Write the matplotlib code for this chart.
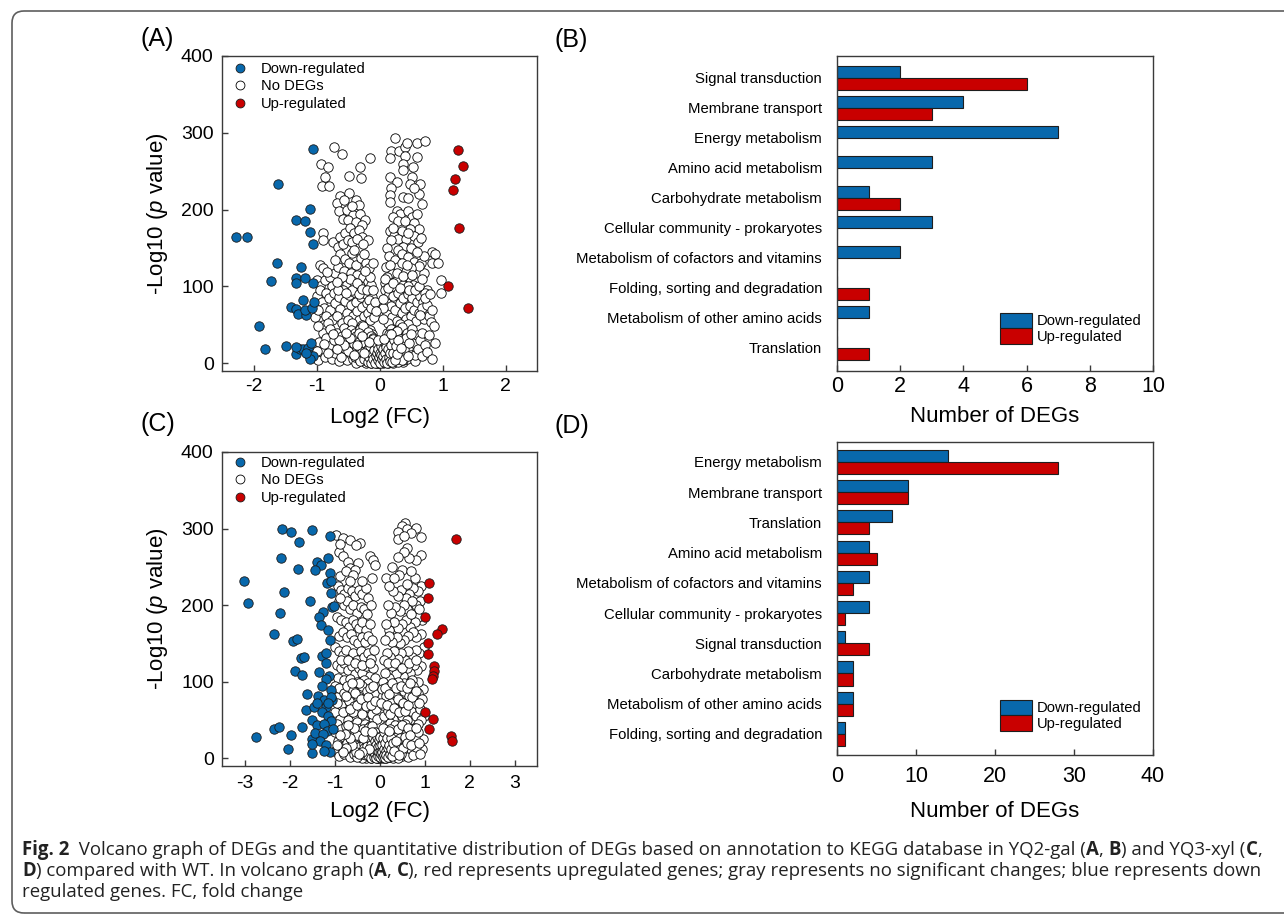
import matplotlib
matplotlib.use('Agg')
import numpy as np
import matplotlib.pyplot as plt
from matplotlib.lines import Line2D
from matplotlib.patches import Patch, FancyBboxPatch
from matplotlib.transforms import IdentityTransform
from matplotlib import font_manager as fm

# ------------------------------------------------------------------ DATA
# Volcano A (YQ2-gal): (log2 FC, -log10 p)
a_down = [(-1.05, 279), (-1.61, 233), (-1.10, 201), (-1.32, 187), (-1.19, 185), (-1.10, 171),
          (-1.05, 155), (-2.28, 164), (-2.11, 164), (-1.62, 130), (-1.72, 107), (-1.25, 125),
          (-1.32, 111), (-1.19, 111), (-1.33, 104), (-1.06, 105), (-1.41, 73), (-1.33, 71),
          (-1.22, 82), (-1.30, 64), (-1.16, 63), (-1.19, 70), (-1.07, 72), (-1.04, 80),
          (-1.91, 49), (-1.82, 18), (-1.48, 23), (-1.33, 12), (-1.26, 18), (-1.21, 18),
          (-1.13, 20), (-1.08, 27), (-1.13, 12), (-1.05, 10), (-1.11, 6), (-1.32, 21), (-1.17, 13)]
a_up = [(1.24, 278), (1.33, 257), (1.20, 240), (1.16, 225), (1.26, 176), (1.09, 101), (1.41, 72)]
a_none = [
    (-0.72, 281), (-0.60, 273), (-0.93, 260), (-0.81, 256), (-0.87, 242), (-0.91, 231), (-0.80, 231),
    (-0.48, 244), (-0.31, 255), (-0.30, 241), (-0.15, 267), (-0.63, 218), (-0.48, 222), (-0.37, 213),
    (-0.32, 206), (-0.68, 209), (-0.65, 198), (-0.52, 200), (-0.42, 193), (-0.31, 195), (-0.23, 187),
    (-0.56, 212), (-0.44, 205), (-0.58, 188), (-0.50, 186), (-0.38, 184), (-0.27, 180), (-0.89, 169),
    (-0.90, 160), (-0.74, 158), (-0.62, 165), (-0.55, 170), (-0.47, 176), (-0.40, 170), (-0.33, 174),
    (-0.28, 165), (-0.18, 160), (-0.66, 152), (-0.58, 155), (-0.50, 160), (-0.43, 158), (-0.36, 162),
    (-0.26, 155),
    (0.25, 293), (0.19, 277), (0.17, 267), (0.31, 277), (0.41, 281), (0.44, 287), (0.60, 287),
    (0.72, 290), (0.60, 269), (0.41, 270), (0.37, 260), (0.53, 256), (0.38, 252), (0.17, 243),
    (0.27, 236), (0.51, 243), (0.49, 234), (0.64, 234), (0.67, 208), (0.62, 221), (0.18, 228),
    (0.16, 219), (0.16, 210), (0.38, 217), (0.55, 228), (0.45, 215), (0.27, 198), (0.33, 194),
    (0.45, 198), (0.52, 190), (0.60, 194), (0.22, 190), (0.30, 185), (0.40, 185), (0.55, 182),
    (0.63, 175), (0.49, 175), (0.36, 172), (0.16, 172), (0.23, 166), (0.29, 162), (0.42, 162),
    (0.55, 166), (0.61, 158), (0.19, 160), (0.38, 152), (0.50, 150), (0.30, 148), (0.12, 150),
    (0.22, 176), (0.45, 170), (0.66, 163),
    (-0.95, 128), (-0.90, 124), (-1.00, 108), (-0.94, 100), (-0.86, 108), (-0.79, 112), (-0.70, 117),
    (-0.62, 142), (-0.55, 136), (-0.49, 131), (-0.44, 144), (-0.37, 128), (-0.30, 137), (-0.22, 131),
    (-0.16, 124), (-0.66, 126), (-0.56, 120), (-0.46, 118), (-0.36, 115), (-0.26, 112), (-0.19, 106),
    (-0.75, 100), (-0.61, 105), (-0.51, 103), (-0.41, 106), (-0.31, 101), (-0.13, 102), (-0.10, 130),
    (-0.84, 119), (-0.40, 147), (-0.70, 135), (-0.25, 142), (-0.15, 113),
    (0.15, 140), (0.25, 135), (0.35, 142), (0.45, 138), (0.55, 132), (0.66, 131), (0.83, 145),
    (0.88, 142), (0.83, 131), (0.93, 131), (0.71, 117), (0.62, 127), (0.50, 124), (0.40, 120),
    (0.30, 126), (0.20, 118), (0.12, 112), (0.18, 105), (0.28, 108), (0.38, 102), (0.48, 111),
    (0.58, 106), (0.53, 102), (0.75, 95), (0.98, 109), (0.98, 92), (0.10, 126), (0.45, 100),
    (0.25, 95), (0.35, 130), (0.70, 140), (0.60, 145), (0.08, 104),
    (-1.00, 88), (-0.95, 95), (-0.92, 80), (-0.85, 91), (-0.88, 72), (-0.80, 85), (-0.78, 70),
    (-0.72, 92), (-0.70, 78), (-0.65, 86), (-0.62, 71), (-0.58, 96), (-0.55, 81), (-0.52, 66),
    (-0.48, 89), (-0.45, 76), (-0.42, 61), (-0.40, 93), (-0.38, 80), (-0.35, 68), (-0.32, 56),
    (-0.30, 86), (-0.28, 73), (-0.25, 62), (-0.22, 90), (-0.20, 78), (-0.18, 66), (-0.15, 56),
    (-0.12, 86), (-0.10, 71), (-0.08, 60), (-0.95, 55), (-0.85, 61), (-0.75, 56), (-0.68, 62),
    (-0.60, 52), (-0.50, 56), (-1.02, 60), (-0.90, 50), (-0.98, 70), (-0.82, 52), (-0.66, 95),
    (-0.44, 52), (-0.27, 50),
    (0.08, 95), (0.10, 80), (0.12, 65), (0.15, 90), (0.18, 75), (0.20, 60), (0.22, 88), (0.25, 70),
    (0.28, 55), (0.30, 92), (0.32, 78), (0.35, 65), (0.38, 85), (0.40, 72), (0.42, 58), (0.45, 90),
    (0.48, 75), (0.50, 62), (0.52, 85), (0.55, 70), (0.58, 55), (0.60, 80), (0.62, 65), (0.65, 88),
    (0.69, 80), (0.68, 72), (0.70, 58), (0.73, 92), (0.76, 76), (0.78, 62), (0.64, 63), (0.82, 54),
    (0.86, 48), (0.14, 52), (0.06, 72), (0.05, 58), (0.33, 51), (0.46, 51),
    (-0.96, 28), (-0.97, 4), (-0.90, 40), (-0.92, 15), (-0.85, 33), (-0.86, 8), (-0.80, 22),
    (-0.78, 45), (-0.76, 5), (-0.72, 30), (-0.70, 14), (-0.68, 40), (-0.65, 3), (-0.63, 22),
    (-0.60, 35), (-0.58, 10), (-0.56, 46), (-0.55, 27), (-0.53, 17), (-0.51, 4), (-0.49, 38),
    (-0.48, 24), (-0.46, 12), (-0.45, 44), (-0.43, 31), (-0.42, 6), (-0.40, 19), (-0.39, 40),
    (-0.37, 27), (-0.36, 11), (-0.35, 2), (-0.34, 34), (-0.33, 18), (-0.31, 45), (-0.30, 25),
    (-0.29, 8), (-0.28, 14), (-0.27, 33), (-0.26, 3), (-0.25, 20), (-0.24, 40), (-0.23, 11),
    (-0.22, 27), (-0.21, 6), (-0.20, 16), (-0.19, 34), (-0.18, 2), (-0.17, 22), (-0.16, 10),
    (-0.15, 44), (-0.15, 28), (-0.14, 5), (-0.13, 16), (-0.12, 38), (-0.11, 24), (-0.10, 9),
    (-0.09, 2), (-0.09, 14), (-0.08, 30), (-0.07, 6), (-0.06, 20), (-0.05, 11), (-0.04, 3),
    (-0.03, 15), (-0.02, 7), (-0.01, 1),
    (0.01, 4), (0.02, 10), (0.03, 2), (0.04, 17), (0.05, 7), (0.06, 25), (0.07, 12), (0.08, 3),
    (0.09, 32), (0.10, 18), (0.11, 8), (0.12, 40), (0.12, 24), (0.13, 4), (0.14, 13), (0.15, 30),
    (0.16, 20), (0.17, 2), (0.18, 45), (0.18, 9), (0.19, 35), (0.20, 15), (0.21, 26), (0.22, 5),
    (0.23, 40), (0.24, 19), (0.25, 11), (0.26, 31), (0.27, 3), (0.28, 24), (0.29, 44), (0.30, 14),
    (0.31, 36), (0.32, 7), (0.33, 28), (0.35, 18), (0.36, 47), (0.37, 2), (0.38, 33), (0.40, 12),
    (0.41, 25), (0.43, 40), (0.44, 6), (0.46, 20), (0.48, 33), (0.50, 11), (0.52, 45), (0.54, 26),
    (0.56, 3), (0.57, 11), (0.59, 37), (0.61, 18), (0.64, 30), (0.67, 39), (0.68, 9), (0.72, 24),
    (0.76, 15), (0.79, 37), (0.88, 27), (0.84, 5),
    (-0.30, 4), (-0.22, 1), (-0.14, 1), (-0.06, 1), (0.00, 2), (0.06, 1), (0.14, 1), (0.22, 1),
    (0.30, 2), (-0.38, 1), (0.38, 4), (-0.12, 3), (0.10, 2), (-0.20, 8), (0.20, 7), (-0.10, 18),
    (0.08, 20), (0.00, 5), (-0.02, 0.5), (-0.98, 48), (-1.00, 16),
    (-0.44, 15), (-0.41, 25), (-0.39, 8), (-0.37, 35), (-0.35, 20), (-0.33, 5), (-0.32, 28),
    (-0.30, 40), (-0.29, 17), (-0.27, 10), (-0.26, 48), (-0.24, 30), (-0.23, 4), (-0.22, 19),
    (-0.21, 36), (-0.20, 25), (-0.19, 12), (-0.18, 41), (-0.17, 6), (-0.16, 30), (-0.15, 17),
    (-0.14, 36), (-0.13, 9), (-0.12, 26), (-0.11, 4), (-0.10, 33), (-0.09, 20), (-0.08, 10),
    (-0.07, 27), (-0.06, 3), (-0.05, 17), (-0.04, 8), (-0.03, 24), (-0.02, 12), (0.00, 9),
    (0.01, 16), (0.03, 6), (0.04, 27), (0.05, 13), (0.06, 4), (0.07, 19), (0.09, 9), (0.10, 28),
    (0.11, 14), (0.13, 22), (0.14, 6), (0.15, 38), (0.16, 12), (0.17, 27), (0.19, 4), (0.20, 33),
    (0.21, 19), (0.23, 8), (0.24, 29), (0.26, 17), (0.27, 42), (0.28, 6), (0.30, 22), (0.32, 32),
    (0.33, 12), (0.35, 4), (0.36, 26), (0.39, 18), (0.42, 33), (0.45, 10), (0.47, 27), (0.50, 38),
    (-0.47, 33), (-0.50, 16), (-0.53, 40), (-0.57, 24), (-0.61, 8), (-0.64, 30), (-0.67, 18),
    (-0.74, 38), (-0.82, 13), (-0.88, 25),
    (-0.47, 110), (-0.43, 96), (-0.36, 104), (-0.33, 90), (-0.27, 97), (-0.23, 120), (-0.20, 95),
    (-0.17, 82), (-0.14, 72), (-0.11, 95), (-0.07, 80), (-0.05, 68), (-0.53, 92), (-0.60, 112),
    (-0.68, 106), (0.05, 84), (0.09, 110), (0.14, 98), (0.17, 128), (0.22, 104), (0.27, 118),
    (0.33, 98), (0.37, 114), (0.43, 128), (0.47, 96), (0.52, 115), (0.57, 95), (0.63, 100),
    (0.67, 110), (0.72, 85), (0.80, 90), (0.84, 70),
    (-0.34, 12), (-0.31, 3), (-0.29, 22), (-0.27, 15), (-0.25, 6), (-0.23, 26), (-0.21, 13),
    (-0.19, 2), (-0.18, 19), (-0.16, 8), (-0.15, 23), (-0.13, 1), (-0.12, 12), (-0.11, 31),
    (-0.10, 5), (-0.09, 25), (-0.08, 17), (-0.07, 1), (-0.06, 9), (-0.05, 26), (-0.04, 14),
    (-0.03, 4), (-0.02, 19), (-0.01, 8), (0.00, 14), (0.01, 1), (0.02, 22), (0.03, 11), (0.04, 5),
    (0.05, 19), (0.06, 9), (0.07, 2), (0.08, 26), (0.09, 14), (0.10, 6), (0.11, 21), (0.12, 1),
    (0.13, 31), (0.14, 18), (0.15, 8), (0.16, 3), (0.17, 14), (0.19, 24), (0.20, 2), (0.22, 13),
    (0.23, 30), (0.25, 4), (0.26, 22), (0.28, 12), (0.30, 30), (-0.36, 24), (-0.33, 40),
    (-0.24, 14), (-0.17, 28), (-0.02, 30), (0.07, 32), (0.18, 38), (-0.28, 36), (-0.40, 11),
    (0.34, 20)]

# Volcano C (YQ3-xyl)
c_down = [(-2.17, 300), (-1.96, 295), (-1.80, 282), (-1.51, 298), (-1.09, 290), (-2.20, 261),
          (-1.82, 247), (-3.01, 231), (-2.93, 203), (-2.12, 217), (-2.21, 190), (-1.54, 205),
          (-2.34, 163), (-1.92, 153), (-1.84, 156), (-1.74, 131), (-1.67, 132), (-1.87, 114),
          (-1.73, 109), (-1.39, 257), (-1.30, 252), (-1.44, 246), (-1.15, 261), (-1.10, 242),
          (-1.16, 229), (-1.07, 231), (-1.07, 216), (-1.06, 198), (-1.02, 199), (-1.25, 191),
          (-1.35, 184), (-1.29, 174), (-1.14, 167), (-1.10, 154), (-1.27, 134), (-1.18, 137),
          (-1.19, 125), (-1.34, 113), (-1.12, 108), (-1.20, 104), (-1.27, 94), (-1.07, 89),
          (-1.05, 76), (-1.61, 84), (-1.36, 82), (-1.24, 76), (-1.18, 67), (-1.64, 63),
          (-1.45, 67), (-1.27, 60), (-1.14, 55), (-1.07, 49), (-1.73, 41), (-1.51, 50),
          (-1.38, 44), (-1.23, 45), (-1.16, 36), (-2.35, 38), (-2.24, 41), (-1.96, 31),
          (-2.75, 28), (-2.04, 12), (-1.51, 7), (-1.51, 25), (-1.44, 33), (-1.25, 32),
          (-1.32, 23), (-1.18, 17), (-1.10, 8), (-1.49, 19), (-1.24, 10), (-1.04, 38),
          (-1.08, 80), (-1.14, 72), (-1.40, 72)]
c_up = [(1.70, 287), (1.11, 229), (1.07, 210), (1.01, 185), (1.39, 169), (1.27, 163), (1.08, 150),
        (1.07, 136), (1.21, 120), (1.21, 114), (1.19, 108), (1.16, 103), (1.00, 60), (1.19, 52),
        (1.10, 38), (1.59, 29), (1.61, 22)]
c_none = [
    (0.57, 307), (0.51, 303), (0.60, 300), (0.80, 301), (0.71, 294), (0.40, 296), (0.41, 286),
    (0.54, 290), (0.92, 289), (0.61, 275), (0.92, 265), (0.82, 259), (0.66, 262), (0.54, 269),
    (0.41, 263), (0.51, 246), (0.44, 239), (0.79, 235), (0.14, 236), (0.33, 236),
    (-0.96, 291), (-0.81, 288), (-0.66, 285), (-0.44, 281), (-0.90, 269), (-0.81, 264), (-0.70, 257),
    (-0.21, 264), (-0.14, 259), (-0.10, 253), (-0.47, 255), (-0.66, 248), (-0.55, 246), (-0.88, 238),
    (-0.16, 236), (-0.88, 280), (-0.52, 278), (-0.74, 244), (-0.60, 240),
    (-0.93, 225), (-0.85, 220), (-0.78, 215), (-0.70, 222), (-0.62, 218), (-0.55, 212), (-0.45, 220),
    (-0.38, 214), (-0.30, 222), (-0.25, 210), (-0.90, 205), (-0.80, 200), (-0.72, 205), (-0.65, 195),
    (-0.58, 200), (-0.50, 190), (-0.42, 198), (-0.35, 195), (-0.28, 188), (-0.20, 200), (-0.95, 185),
    (-0.85, 180), (-0.75, 178), (-0.68, 172), (-0.60, 180), (-0.52, 175), (-0.45, 170), (-0.38, 178),
    (-0.30, 168), (-0.22, 175), (-0.90, 160), (-0.82, 165), (-0.72, 158), (-0.64, 162), (-0.56, 155),
    (-0.48, 150), (-0.40, 158), (-0.32, 152), (-0.25, 160), (-0.17, 155),
    (0.92, 225), (0.85, 218), (0.75, 222), (0.65, 215), (0.58, 210), (0.48, 220), (0.40, 212),
    (0.30, 218), (0.22, 225), (0.90, 205), (0.80, 200), (0.72, 205), (0.62, 195), (0.55, 200),
    (0.45, 192), (0.35, 198), (0.25, 190), (0.18, 200), (0.95, 180), (0.85, 185), (0.78, 178),
    (0.68, 172), (0.58, 180), (0.50, 175), (0.42, 170), (0.32, 178), (0.22, 168), (0.15, 175),
    (0.92, 162), (0.82, 158), (0.74, 165), (0.64, 160), (0.54, 155), (0.46, 150), (0.38, 158),
    (0.28, 152), (0.20, 160), (0.12, 155), (0.88, 195), (0.70, 188),
    (-0.98, 145), (-0.90, 140), (-0.82, 135), (-0.74, 142), (-0.66, 130), (-0.58, 138), (-0.50, 128),
    (-0.42, 140), (-0.34, 132), (-0.26, 138), (-0.18, 130), (-0.12, 142), (-0.95, 122), (-0.86, 118),
    (-0.78, 125), (-0.70, 115), (-0.62, 120), (-0.54, 110), (-0.46, 118), (-0.38, 112), (-0.30, 120),
    (-0.22, 108), (-0.15, 118), (-0.10, 105), (-0.92, 105), (-0.80, 102), (-0.66, 104), (-0.50, 100),
    (-0.35, 102), (-0.25, 98),
    (0.98, 145), (0.88, 138), (0.80, 142), (0.72, 132), (0.64, 140), (0.56, 128), (0.48, 138),
    (0.40, 130), (0.32, 140), (0.24, 132), (0.16, 138), (0.10, 128), (0.92, 120), (0.84, 115),
    (0.76, 122), (0.68, 112), (0.60, 118), (0.52, 108), (0.44, 115), (0.36, 110), (0.28, 120),
    (0.20, 105), (0.12, 112), (0.08, 100), (0.96, 90), (0.86, 100), (0.72, 102), (0.55, 98),
    (0.40, 100), (0.25, 96),
    (-1.00, 95), (-0.95, 80), (-0.90, 92), (-0.85, 70), (-0.80, 85), (-0.76, 60), (-0.72, 95),
    (-0.68, 75), (-0.64, 55), (-0.60, 88), (-0.56, 68), (-0.52, 50), (-0.48, 82), (-0.44, 62),
    (-0.40, 95), (-0.36, 72), (-0.32, 55), (-0.28, 88), (-0.24, 66), (-0.20, 78), (-0.16, 58),
    (-0.12, 85), (-0.08, 65), (-0.06, 52), (-0.98, 60), (-0.88, 52), (-0.70, 50), (-0.58, 60),
    (-0.46, 98), (-0.34, 50),
    (0.06, 90), (0.08, 70), (0.10, 55), (0.14, 82), (0.18, 62), (0.22, 95), (0.26, 72), (0.30, 52),
    (0.34, 85), (0.38, 65), (0.42, 92), (0.46, 75), (0.50, 55), (0.54, 88), (0.58, 68), (0.62, 50),
    (0.66, 82), (0.70, 62), (0.74, 94), (0.78, 72), (0.82, 55), (0.86, 85), (0.90, 65), (0.95, 78),
    (0.98, 55), (0.92, 50), (0.85, 45), (0.76, 40), (0.96, 25), (0.94, 12),
    (-1.00, 35), (-0.98, 10), (-0.95, 45), (-0.92, 22), (-0.90, 3), (-0.86, 38), (-0.84, 15),
    (-0.80, 28), (-0.78, 6), (-0.75, 42), (-0.72, 20), (-0.70, 10), (-0.68, 33), (-0.65, 2),
    (-0.63, 25), (-0.60, 44), (-0.58, 14), (-0.56, 6), (-0.54, 35), (-0.52, 22), (-0.50, 48),
    (-0.48, 10), (-0.46, 28), (-0.44, 3), (-0.42, 40), (-0.40, 17), (-0.38, 32), (-0.36, 8),
    (-0.34, 24), (-0.32, 45), (-0.30, 13), (-0.29, 2), (-0.27, 35), (-0.26, 20), (-0.24, 7),
    (-0.22, 28), (-0.21, 42), (-0.19, 14), (-0.18, 3), (-0.16, 24), (-0.15, 36), (-0.13, 9),
    (-0.12, 18), (-0.10, 30), (-0.09, 4), (-0.08, 13), (-0.06, 22), (-0.05, 7), (-0.04, 1),
    (-0.02, 12), (-0.01, 4),
    (0.00, 2), (0.01, 8), (0.03, 15), (0.04, 3), (0.05, 24), (0.07, 10), (0.08, 36), (0.09, 2),
    (0.10, 18), (0.12, 28), (0.13, 6), (0.14, 42), (0.16, 14), (0.17, 3), (0.18, 33), (0.20, 22),
    (0.21, 8), (0.23, 46), (0.24, 15), (0.26, 28), (0.27, 4), (0.29, 38), (0.30, 12), (0.32, 24),
    (0.34, 2), (0.35, 44), (0.37, 18), (0.39, 32), (0.41, 8), (0.43, 24), (0.45, 40), (0.47, 14),
    (0.49, 3), (0.51, 30), (0.54, 20), (0.56, 45), (0.58, 10), (0.61, 34), (0.63, 2), (0.66, 22),
    (0.69, 12), (0.72, 38), (0.75, 5), (0.78, 26), (0.82, 15), (0.86, 34), (0.90, 6),
    (-0.30, 1), (-0.20, 1), (-0.12, 2), (-0.06, 0.5), (0.02, 1), (0.08, 1), (0.14, 1), (0.22, 2),
    (0.30, 1), (0.40, 1), (-0.40, 1), (-0.50, 2), (-0.16, 6), (0.11, 5), (-0.03, 8), (0.06, 12),
    (-0.45, 15), (-0.42, 28), (-0.39, 6), (-0.37, 38), (-0.35, 19), (-0.33, 10), (-0.31, 30),
    (-0.28, 22), (-0.27, 8), (-0.25, 40), (-0.23, 15), (-0.22, 32), (-0.20, 6), (-0.19, 24),
    (-0.17, 12), (-0.16, 42), (-0.14, 20), (-0.13, 30), (-0.11, 8), (-0.10, 14), (-0.08, 26),
    (-0.07, 3), (-0.05, 16), (-0.03, 20), (-0.01, 10), (0.02, 20), (0.04, 9), (0.06, 30),
    (0.08, 16), (0.09, 6), (0.11, 24), (0.13, 12), (0.15, 34), (0.17, 20), (0.19, 8), (0.21, 28),
    (0.22, 14), (0.24, 38), (0.25, 6), (0.27, 20), (0.29, 30), (0.31, 8), (0.33, 16), (0.36, 28),
    (0.38, 9), (0.40, 38), (0.42, 16), (0.45, 26), (0.48, 6), (0.50, 44), (0.53, 14), (0.57, 28),
    (0.60, 20), (0.64, 40), (0.68, 30), (0.71, 18), (0.80, 40), (0.88, 20), (-0.50, 30),
    (-0.53, 8), (-0.57, 40), (-0.61, 18), (-0.66, 26), (-0.69, 44), (-0.74, 14), (-0.77, 32),
    (-0.82, 8), (-0.88, 30), (-0.94, 18),
    (-0.94, 72), (-0.82, 60), (-0.74, 82), (-0.66, 64), (-0.62, 98), (-0.54, 85), (-0.50, 70),
    (-0.42, 78), (-0.38, 58), (-0.30, 68), (-0.26, 80), (-0.22, 92), (-0.18, 70), (-0.14, 95),
    (-0.10, 75), (0.04, 72), (0.12, 92), (0.16, 70), (0.20, 84), (0.24, 58), (0.28, 98),
    (0.32, 66), (0.36, 92), (0.40, 78), (0.44, 60), (0.48, 95), (0.52, 72), (0.56, 62), (0.60, 92),
    (0.64, 70), (0.68, 98), (0.72, 80), (0.80, 88), (0.88, 72), (-0.86, 128), (-0.70, 128),
    (-0.54, 125), (-0.38, 122), (-0.22, 125), (0.18, 125), (0.34, 124), (0.50, 118), (0.66, 125),
    (0.82, 128), (-0.88, 210), (-0.65, 232), (-0.40, 232), (0.60, 228), (0.70, 245), (0.28, 250),
    (-0.34, 14), (-0.31, 4), (-0.29, 24), (-0.27, 16), (-0.25, 5), (-0.23, 26), (-0.21, 12),
    (-0.19, 1), (-0.18, 18), (-0.16, 9), (-0.15, 28), (-0.13, 2), (-0.12, 11), (-0.11, 34),
    (-0.10, 6), (-0.09, 22), (-0.08, 17), (-0.07, 1), (-0.06, 10), (-0.05, 28), (-0.04, 15),
    (-0.03, 3), (-0.02, 24), (-0.01, 8), (0.00, 16), (0.01, 2), (0.02, 28), (0.03, 10), (0.04, 6),
    (0.05, 18), (0.06, 8), (0.07, 2), (0.08, 26), (0.09, 12), (0.10, 5), (0.11, 34), (0.12, 1),
    (0.13, 20), (0.14, 10), (0.15, 4), (0.16, 26), (0.18, 14), (0.19, 2), (0.21, 18), (0.23, 6),
    (0.25, 26), (0.26, 12), (0.28, 3), (0.30, 20), (0.33, 10), (-0.36, 26), (-0.33, 36),
    (-0.24, 12), (-0.17, 34), (0.07, 40), (0.20, 36), (-0.40, 8), (0.36, 22), (-0.46, 6),
    (0.44, 4)]

volcano_labels = ['Down-regulated', 'No DEGs', 'Up-regulated']

# KEGG bars B
b_cats = ['Signal transduction', 'Membrane transport', 'Energy metabolism',
          'Amino acid metabolism', 'Carbohydrate metabolism',
          'Cellular community - prokaryotes', 'Metabolism of cofactors and vitamins',
          'Folding, sorting and degradation', 'Metabolism of other amino acids', 'Translation']
b_down = [2, 4, 7, 3, 1, 3, 2, 0, 1, 0]
b_up = [6, 3, 0, 0, 2, 0, 0, 1, 0, 1]

# KEGG bars D
d_cats = ['Energy metabolism', 'Membrane transport', 'Translation', 'Amino acid metabolism',
          'Metabolism of cofactors and vitamins', 'Cellular community - prokaryotes',
          'Signal transduction', 'Carbohydrate metabolism',
          'Metabolism of other amino acids', 'Folding, sorting and degradation']
d_down = [14, 9, 7, 4, 4, 4, 1, 2, 2, 1]
d_up = [28, 9, 4, 5, 2, 1, 4, 2, 2, 1]

bar_labels = ['Down-regulated', 'Up-regulated']

# ------------------------------------------------------------------ STYLE
plt.rcParams['font.family'] = ['Liberation Sans', 'DejaVu Sans']
plt.rcParams['mathtext.fontset'] = 'custom'
plt.rcParams['mathtext.rm'] = 'Liberation Sans'
plt.rcParams['mathtext.it'] = 'Liberation Sans:italic'
plt.rcParams['axes.unicode_minus'] = False

BLUE = '#0868ac'
RED = '#c90000'
SPINE = '#3a3a3a'
MS = 46

W, H = 1284, 915
fig = plt.figure(figsize=(W / 100, H / 100), dpi=100)


def rect(l, t, r, b):
    return [l / W, 1 - b / H, (r - l) / W, (b - t) / H]


axA = fig.add_axes(rect(222, 56, 537, 371))
axC = fig.add_axes(rect(222, 452, 537, 766))
axB = fig.add_axes(rect(837, 56, 1153, 371))
axD = fig.add_axes(rect(837, 442, 1153, 755))


def style_spines(ax):
    for s in ax.spines.values():
        s.set_color(SPINE)
        s.set_linewidth(1.0)


def volcano(ax, none, down, up, xlim, xticks, xpad, xlab_y, leg_y):
    nx, ny = zip(*none)
    dx, dy = zip(*down)
    ux, uy = zip(*up)
    ax.scatter(nx, ny, s=MS, facecolor='white', edgecolor='black', linewidth=0.6, zorder=2)
    ax.scatter(dx, dy, s=MS, facecolor=BLUE, edgecolor='#1a1a1a', linewidth=0.6, zorder=3)
    ax.scatter(ux, uy, s=MS, facecolor=RED, edgecolor='#1a1a1a', linewidth=0.6, zorder=3)
    ax.set_xlim(*xlim)
    ax.set_ylim(-10, 400)
    ax.set_xticks(xticks)
    ax.set_yticks([0, 100, 200, 300, 400])
    ax.tick_params(direction='in', length=4.3, width=1.0, color=SPINE, labelsize=14)
    ax.tick_params(axis='x', pad=xpad)
    ax.tick_params(axis='y', pad=6)
    style_spines(ax)
    ax.set_xlabel('Log2 (FC)', fontsize=16)
    ax.xaxis.set_label_coords(0.5, xlab_y)
    ax.set_ylabel(r'-Log10 ($\mathit{p}$ value)', fontsize=16)
    ax.yaxis.set_label_coords(-0.165, 0.5)
    handles = [
        Line2D([], [], ls='none', marker='o', ms=6.4, mfc=BLUE, mec='#1a1a1a', mew=0.6),
        Line2D([], [], ls='none', marker='o', ms=6.4, mfc='white', mec='black', mew=0.6),
        Line2D([], [], ls='none', marker='o', ms=6.4, mfc=RED, mec='#1a1a1a', mew=0.6)]
    ax.legend(handles, volcano_labels, loc='upper left', bbox_to_anchor=(0.034, leg_y),
              frameon=False, fontsize=10.6, handlelength=1.0, handletextpad=0.93,
              labelspacing=0.25, borderpad=0, borderaxespad=0)


volcano(axA, a_none, a_down, a_up, (-2.5, 2.5), [-2, -1, 0, 1, 2], 5, -0.114, 0.982)
volcano(axC, c_none, c_down, c_up, (-3.5, 3.5), [-3, -2, -1, 0, 1, 2, 3], 6.5, -0.111, 0.988)


def kegg(ax, cats, down, up, xmax, xticks, ylim, xpad, xlab_y, leg_y):
    y = np.arange(len(cats))
    ax.barh(y - 0.2, down, height=0.4, color=BLUE, edgecolor='#1e1e1e', linewidth=0.8, zorder=2)
    ax.barh(y + 0.2, up, height=0.4, color=RED, edgecolor='#1e1e1e', linewidth=0.8, zorder=2)
    ax.set_ylim(ylim[1], ylim[0])
    ax.set_yticks(y)
    ax.set_yticklabels(cats, fontsize=10.7)
    ax.tick_params(axis='y', length=0, pad=10.8)
    ax.set_xlim(0, xmax)
    ax.set_xticks(xticks)
    ax.tick_params(axis='x', direction='in', length=4.3, width=1.0, color=SPINE,
                   labelsize=15.5, pad=xpad)
    style_spines(ax)
    ax.set_xlabel('Number of DEGs', fontsize=16)
    ax.xaxis.set_label_coords(0.5, xlab_y)
    handles = [Patch(facecolor=BLUE, edgecolor='#1e1e1e', linewidth=0.8),
               Patch(facecolor=RED, edgecolor='#1e1e1e', linewidth=0.8)]
    ax.legend(handles, bar_labels, loc='lower left', bbox_to_anchor=(0.516, leg_y),
              frameon=False, fontsize=10.6, handlelength=2.18, handleheight=1.25,
              labelspacing=0.0, handletextpad=0.34, borderpad=0, borderaxespad=0)


kegg(axB, b_cats, b_down, b_up, 10, [0, 2, 4, 6, 8, 10], (-0.733, 9.767), 3.6, -0.111, 0.0857)
kegg(axD, d_cats, d_down, d_up, 40, [0, 10, 20, 30, 40], (-0.662, 9.70), 8.0, -0.147, 0.0767)

# panel letters
for lab, x, y in [('(A)', 140, 39), ('(B)', 555, 40), ('(C)', 140, 424), ('(D)', 555, 426)]:
    fig.text(x / W, 1 - y / H, lab, fontsize=18, ha='left', va='center')

# frame
frame = FancyBboxPatch((12, 2), 1400, 902, boxstyle='round,pad=0,rounding_size=12',
                       transform=IdentityTransform(), facecolor='none',
                       edgecolor='#5e5e5e', linewidth=1.2)
fig.patches.append(frame)

# ------------------------------------------------------------------ caption


def has_font(name):
    try:
        fm.findfont(fm.FontProperties(family=name), fallback_to_default=False)
        return True
    except Exception:
        return False


cap_family = 'Liberation Sans Narrow' if has_font('Liberation Sans Narrow') else 'Open Sans'
renderer = fig.canvas.get_renderer()


def seg_width(s, weight, size):
    t1 = fig.text(0, 0, 'x' + s + 'x', fontsize=size, fontweight=weight, family=cap_family)
    t2 = fig.text(0, 0, 'xx', fontsize=size, fontweight=weight, family=cap_family)
    w = t1.get_window_extent(renderer).width - t2.get_window_extent(renderer).width
    t1.remove()
    t2.remove()
    return w


cap_lines = [
    [('Fig. 2', 'bold'), ('  Volcano graph of DEGs and the quantitative distribution of DEGs based on '
                          'annotation to KEGG database in YQ2-gal (', 'normal'), ('A', 'bold'),
     (', ', 'normal'), ('B', 'bold'), (') and YQ3-xyl (', 'normal'), ('C', 'bold'), (',', 'normal')],
    [('D', 'bold'), (') compared with WT. In volcano graph (', 'normal'), ('A', 'bold'),
     (', ', 'normal'), ('C', 'bold'),
     ('), red represents upregulated genes; gray represents no significant changes; blue represents down',
      'normal')],
    [('regulated genes. FC, fold change', 'normal')]]
baselines = [855, 876, 897]

base_size = 10.0
w1 = sum(seg_width(s, wt, base_size) for s, wt in cap_lines[0])
cap_size = min(13.5, base_size * 1245.0 / w1)

for segs, yb in zip(cap_lines, baselines):
    x = 22.0
    for s, wt in segs:
        fig.text(x / W, 1 - yb / H, s, fontsize=cap_size, fontweight=wt, family=cap_family,
                 ha='left', va='baseline', color='#222222')
        x += seg_width(s, wt, cap_size)

fig.savefig('out.png', dpi=100)
